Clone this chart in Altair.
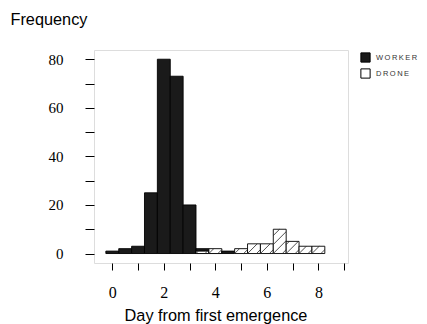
import math
import altair as alt
import pandas as pd

# ---- data ----
days = [0, 0.5, 1, 1.5, 2, 2.5, 3, 3.5, 4, 4.5, 5, 5.5, 6, 6.5, 7, 7.5, 8]
worker = [1, 2, 3, 25, 80, 73, 20, 2, 1, 1, 0, 0, 0, 0, 0, 0, 0]
drone = [0, 0, 0, 0, 0, 0, 0, 1, 2, 0, 2, 4, 4, 10, 5, 3, 3]
castes = ["WORKER", "DRONE"]
x_ticks = [0, 1, 2, 3, 4, 5, 6, 7, 8, 9]
y_ticks = [0, 10, 20, 30, 40, 50, 60, 70, 80]

# ---- layout ----
W, H = 254, 213
X_DOM = [-0.71, 9.15]
Y_DOM = [-3.9, 83.8]
HALF = 0.25
HATCH = 9.0

rows = []
for d, w, dr in zip(days, worker, drone):
    if w > 0:
        rows.append({"day": d, "count": w, "caste": "WORKER"})
    if dr > 0:
        rows.append({"day": d, "count": dr, "caste": "DRONE"})
df = pd.DataFrame(rows)

# hatch segments for the drone bars (45 degrees on screen)
kx = W / (X_DOM[1] - X_DOM[0])
ky = H / (Y_DOM[1] - Y_DOM[0])
hrows = []
for d, dr in zip(days, drone):
    if dr <= 0:
        continue
    left = d - HALF
    bw = 2 * HALF * kx
    bh = dr * ky
    k = -int(math.floor(bh / HATCH))
    while k * HATCH < bw:
        c = k * HATCH
        u0 = max(0.0, c)
        u1 = min(bw, bh + c)
        if u1 - u0 > 0.8:
            hrows.append({"hx": left + u0 / kx, "hy": (u0 - c) / ky,
                          "hx2": left + u1 / kx, "hy2": (u1 - c) / ky})
        k += 1
dh = pd.DataFrame(hrows)

xscale = alt.Scale(domain=X_DOM, nice=False, zero=False)
yscale = alt.Scale(domain=Y_DOM, nice=False, zero=False)

xaxis = alt.Axis(
    values=x_ticks,
    labelExpr="datum.value % 2 == 0 ? datum.label : ''",
    tickSize=7, tickColor="black", tickWidth=1,
    labelPadding=14, labelFont="Liberation Serif", labelFontSize=16,
    labelColor="black", domain=False, grid=False,
    title="Day from first emergence", titleFont="Liberation Sans",
    titleFontSize=16.3, titleFontWeight="normal", titleColor="black",
    titleAnchor="start", titleAlign="center", titleBaseline="alphabetic",
    titleX=121.5, titleY=57)
yaxis = alt.Axis(
    values=y_ticks,
    labelExpr="datum.value % 20 == 0 ? datum.label : ''",
    tickSize=9, tickColor="black", tickWidth=1,
    labelPadding=22, labelFont="Liberation Serif", labelFontSize=15,
    labelColor="black", domain=False, grid=False,
    title="Frequency", titleFont="Liberation Sans", titleFontSize=16.3,
    titleFontWeight="normal", titleColor="black", titleAngle=0,
    titleAlign="left", titleBaseline="alphabetic", titleAnchor="start",
    titleX=-84, titleY=-26)

TS = "\u2009"
bars = alt.Chart(df).transform_calculate(
    x0=f"datum.day - {HALF}", x1=f"datum.day + {HALF}", base="0"
).mark_rect(stroke="black", strokeWidth=0.9).encode(
    x=alt.X("x0:Q", scale=xscale, axis=xaxis),
    x2="x1:Q",
    y=alt.Y("count:Q", scale=yscale, axis=yaxis),
    y2="base:Q",
    fill=alt.Fill("caste:N", scale=alt.Scale(domain=castes, range=["#1a1a1a", "white"]),
                  legend=alt.Legend(
                      title=None, orient="none", legendX=266, legendY=2,
                      symbolType="square", symbolSize=85,
                      symbolStrokeColor="black", symbolStrokeWidth=1,
                      labelFont="Liberation Sans",
                      labelFontSize=7.5,
                      labelColor="#333333", labelOffset=5, rowPadding=1,
                      labelLimit=200,
                      labelExpr="datum.label == 'WORKER' ? '"
                                + TS.join("WORKER") + "' : '" + TS.join("DRONE") + "'")),
)

hatch = alt.Chart(dh).mark_rule(color="#222222", strokeWidth=0.8).encode(
    x=alt.X("hx:Q", scale=xscale, axis=xaxis),
    y=alt.Y("hy:Q", scale=yscale, axis=yaxis),
    x2="hx2:Q",
    y2="hy2:Q",
)

chart = alt.layer(bars, hatch).properties(
    width=W, height=H,
    autosize=alt.AutoSizeParams(type="none"),
    padding={"left": 86, "top": 42, "right": 71, "bottom": 61},
).configure_view(stroke="black", strokeWidth=1).configure(background="white")

chart.save("out.html", embed_options={"renderer": "svg", "actions": False})
